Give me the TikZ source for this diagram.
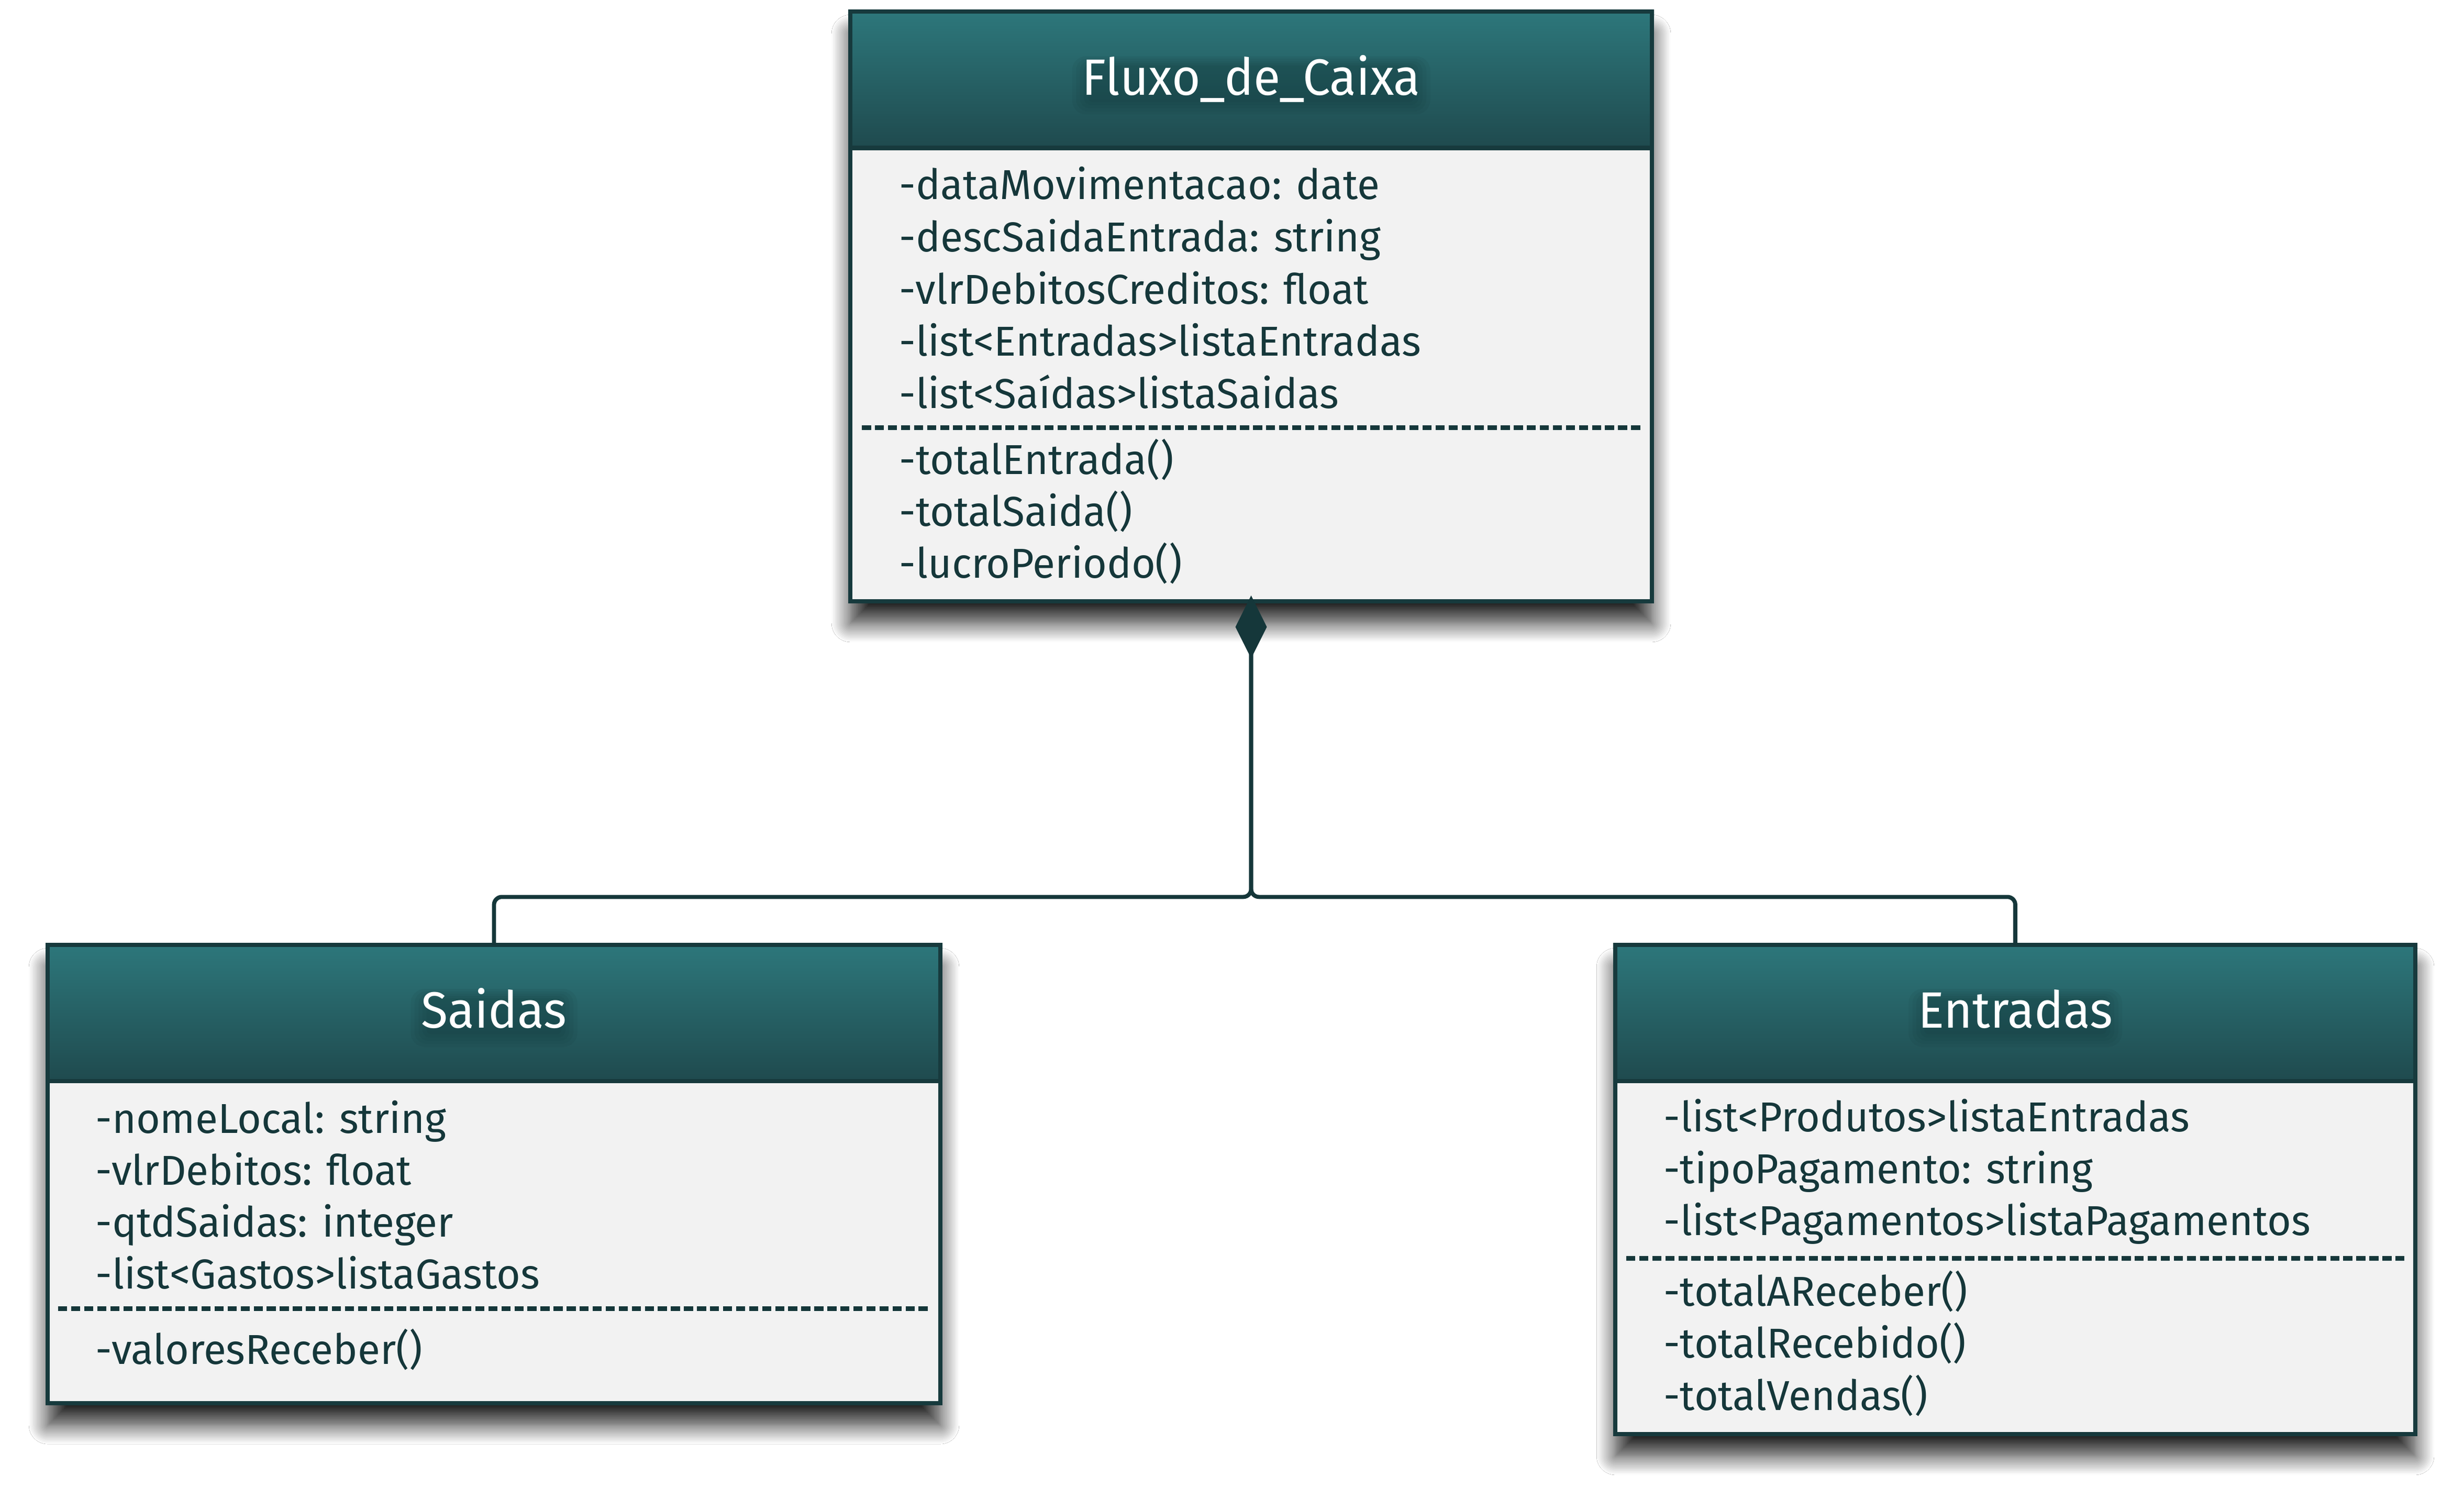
\documentclass[tikz,border=0pt]{standalone}
\usepackage{fontspec}
\usetikzlibrary{arrows.meta,shadows.blur,calc}
\newfontfamily\calfont{Fira Sans}
\newlength\calw
\settowidth\calw{\calfont\fontsize{26.6pt}{32pt}\selectfont -list<Entradas>listaEntradas}
\pgfmathsetmacro\bodystr{332/\calw}
\settowidth\calw{\calfont\fontsize{32.5pt}{36pt}\selectfont Entradas}
\pgfmathsetmacro\titlestr{123.9/\calw}
\edef\tmpdef{\noexpand\newfontfamily\noexpand\bodyfont[FakeStretch=\bodystr]{Fira Sans}}\tmpdef
\edef\tmpdef{\noexpand\newfontfamily\noexpand\titlefont[FakeStretch=\titlestr]{Fira Sans}}\tmpdef
\definecolor{hdtop}{HTML}{2D777B}
\definecolor{hdbot}{HTML}{1F4A4E}
\definecolor{edge}{HTML}{173A3D}
\definecolor{bodyfill}{HTML}{F2F2F2}
\definecolor{ink}{HTML}{15373A}
\definecolor{glowc}{HTML}{0B2224}
\pgfdeclarelayer{bg}
\pgfsetlayers{bg,main}
\tikzset{
 hdr/.style={rectangle, draw=edge, line width=2.8pt, top color=hdtop, bottom color=hdbot, inner sep=0pt, outer sep=0pt, anchor=north west},
 bdy/.style={rectangle, draw=edge, line width=2.8pt, fill=bodyfill, inner sep=0pt, outer sep=0pt, anchor=north west},
 ttl/.style={font=\titlefont\fontsize{32.5pt}{36pt}\selectfont, text=white, inner sep=0pt, anchor=base},
 glowpart/.style={fill=glowc, fill opacity=0.06},
 attr/.style={font=\bodyfont\fontsize{26.6pt}{32pt}\selectfont, text=ink, inner sep=0pt, anchor=base west},
 sep/.style={draw=ink, line width=3pt, dash pattern=on 5.8pt off 2.5pt},
 conn/.style={draw=ink, line width=2.6pt, rounded corners=5pt},
 shd/.style={blur shadow={shadow xshift=0pt, shadow yshift=-14pt, shadow blur radius=12pt, shadow blur steps=14, shadow opacity=85}},
}
\begin{document}
\begin{tikzpicture}[x=1pt,y=-1pt]
\useasboundingbox (0,0) rectangle (1568.67,960.33);
% ---------- Fluxo_de_Caixa
\node[hdr, minimum width=510.2pt, minimum height=86.8pt] (fluxo) at (541.4,7.4) {};
\node[bdy, minimum width=510.2pt, minimum height=288.4pt] (fluxob) at (fluxo.south west) {};
% ---------- Saidas
\node[hdr, minimum width=568.2pt, minimum height=86.6pt] (saidas) at (30.4,601.4) {};
\node[bdy, minimum width=568.2pt, minimum height=205pt] (saidasb) at (saidas.south west) {};
% ---------- Entradas
\node[hdr, minimum width=509.2pt, minimum height=86.6pt] (entradas) at (1028.4,601.4) {};
\node[bdy, minimum width=509.2pt, minimum height=224.6pt] (entradasb) at (entradas.south west) {};
% shadows and background
\begin{pgfonlayer}{bg}
\fill[white] (0,0) rectangle (1568.67,960.33);
\path[shd, fill=white] (fluxo.north west) rectangle (fluxob.south east);
\path[shd, fill=white] (saidas.north west) rectangle (saidasb.south east);
\path[shd, fill=white] (entradas.north west) rectangle (entradasb.south east);
\end{pgfonlayer}
% soft glow behind the titles
\foreach \k in {0,1,2,3,4}{
  \fill[glowpart, rounded corners={3pt+1.5*\k pt}] ($(fluxo.center)+(-104-2.5*\k,-9-1.5*\k)$) rectangle ($(fluxo.center)+(104+2.5*\k,14+2*\k)$);
  \fill[glowpart, rounded corners={3pt+1.5*\k pt}] ($(saidas.center)+(-43-2.5*\k,-9.4-1.5*\k)$) rectangle ($(saidas.center)+(43+2.5*\k,13.6+2*\k)$);
  \fill[glowpart, rounded corners={3pt+1.5*\k pt}] ($(entradas.center)+(-58-2.5*\k,-9.4-1.5*\k)$) rectangle ($(entradas.center)+(58+2.5*\k,13.6+2*\k)$);
}
% titles
\node[ttl] (fluxot) at ($(fluxo.center)+(0,9.8)$) {Fluxo\_de\_Caixa};
\node[ttl] (saidast) at ($(saidas.center)+(0,9.4)$) {Saidas};
\node[ttl] (entradast) at ($(entradas.center)+(0,9.4)$) {Entradas};
% Fluxo members
\node[attr] (f1) at (572.4,127) {-dataMovimentacao: date};
\node[attr] (f2) at (572.4,160.2) {-descSaidaEntrada: string};
\node[attr] (f3) at (572.4,193.4) {-vlrDebitosCreditos: float};
\node[attr] (f4) at (572.4,226.6) {-list<Entradas>listaEntradas};
\node[attr] (f5) at (572.4,259.8) {-list<Saídas>listaSaidas};
\draw[sep] (548.7,272) -- (1044.7,272);
\node[attr] (f6) at (572.4,301.7) {-totalEntrada()};
\node[attr] (f7) at (572.4,334.7) {-totalSaida()};
\node[attr] (f8) at (572.4,367.7) {-lucroPeriodo()};
% Saidas members
\node[attr] (s1) at (60.6,721) {-nomeLocal: string};
\node[attr] (s2) at (60.6,754) {-vlrDebitos: float};
\node[attr] (s3) at (60.6,787) {-qtdSaidas: integer};
\node[attr] (s4) at (60.6,820) {-list<Gastos>listaGastos};
\draw[sep] (37,832.7) -- (591.7,832.7);
\node[attr] (s5) at (60.6,868) {-valoresReceber()};
% Entradas members
\node[attr] (e1) at (1059,720) {-list<Produtos>listaEntradas};
\node[attr] (e2) at (1059,753) {-tipoPagamento: string};
\node[attr] (e3) at (1059,786) {-list<Pagamentos>listaPagamentos};
\draw[sep] (1035.3,800.9) -- (1531,800.9);
\node[attr] (e4) at (1059,831) {-totalAReceber()};
\node[attr] (e5) at (1059,864.3) {-totalRecebido()};
\node[attr] (e6) at (1059,897.5) {-totalVendas()};
% connectors (composition)
\coordinate (jn) at (796.5,570.8);
\draw[conn] (fluxob.south) -- (fluxob.south |- jn) -| (entradas.north);
\draw[conn, {Diamond[length=40pt,width=20pt]}-] ([yshift=3.6pt]fluxob.south) -- (fluxob.south |- jn) -| (saidas.north);
\end{tikzpicture}
\end{document}
